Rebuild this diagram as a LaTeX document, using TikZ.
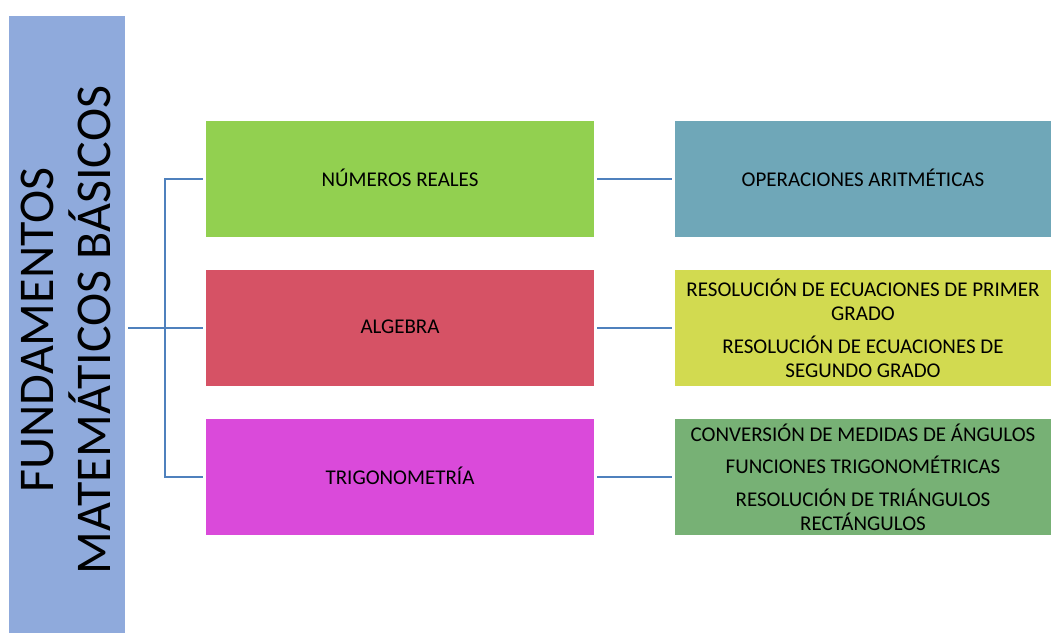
\documentclass[tikz,border=0pt]{standalone}
\usepackage{fontspec}
\setmainfont{Carlito}
\definecolor{barblue}{RGB}{143,170,220}
\definecolor{cgreen}{RGB}{146,208,80}
\definecolor{cred}{RGB}{214,82,101}
\definecolor{cmag}{RGB}{218,74,218}
\definecolor{cteal}{RGB}{111,167,184}
\definecolor{cyell}{RGB}{210,218,80}
\definecolor{cleaf}{RGB}{119,177,117}
\definecolor{cline}{RGB}{79,129,189}
\tikzset{
  box/.style={rectangle, draw=none, inner sep=0pt, align=center,
    font=\fontsize{21}{24}\selectfont},
  midbox/.style={box, minimum width=388pt, minimum height=116pt},
  rbox/.style={box, minimum width=376pt, minimum height=116pt},
  conn/.style={draw=cline, line width=2pt}
}
\begin{document}
\begin{tikzpicture}[x=1pt,y=-1pt]
\useasboundingbox (0,0) rectangle (1051,633);
\node[rectangle, fill=barblue, minimum width=116pt, minimum height=617pt, inner sep=0pt] (bar) at (67,324.5) {};
\node[rotate=90, align=center, font=\fontsize{50}{57}\selectfont] (bartxt) at (66,330) {FUNDAMENTOS\\MATEMÁTICOS BÁSICOS};

\node[midbox, fill=cgreen] (nr) at (400,179) {\raisebox{2pt}{NÚMEROS REALES}};
\node[midbox, fill=cred] (al) at (400,328) {\raisebox{2pt}{ALGEBRA}};
\node[midbox, fill=cmag] (tr) at (400,477) {\raisebox{2pt}{TRIGONOMETRÍA}};

\node[rbox, fill=cteal] (op) at (863,179) {\raisebox{2pt}{OPERACIONES ARITMÉTICAS}};
\node[rbox, fill=cyell] (ec) at (863,328) {RESOLUCIÓN DE ECUACIONES DE PRIMER\\GRADO\\[9pt]RESOLUCIÓN DE ECUACIONES DE\\SEGUNDO GRADO};
\node[rbox, fill=cleaf] (tg) at (863,477) {CONVERSIÓN DE MEDIDAS DE ÁNGULOS\\[8pt]FUNCIONES TRIGONOMÉTRICAS\\[9pt]RESOLUCIÓN DE TRIÁNGULOS\\RECTÁNGULOS};

\coordinate (hub) at (128,328);
\coordinate (j) at (165,328);
\draw[conn, shorten >=3pt] (hub) -- (al.west);
\draw[conn, shorten >=3pt] (j) |- (nr.west);
\draw[conn, shorten >=3pt] (j) |- (tr.west);
\draw[conn, shorten >=3pt, shorten <=3pt] (nr.east) -- (op.west);
\draw[conn, shorten >=3pt, shorten <=3pt] (al.east) -- (ec.west);
\draw[conn, shorten >=3pt, shorten <=3pt] (tr.east) -- (tg.west);
\end{tikzpicture}
\end{document}
